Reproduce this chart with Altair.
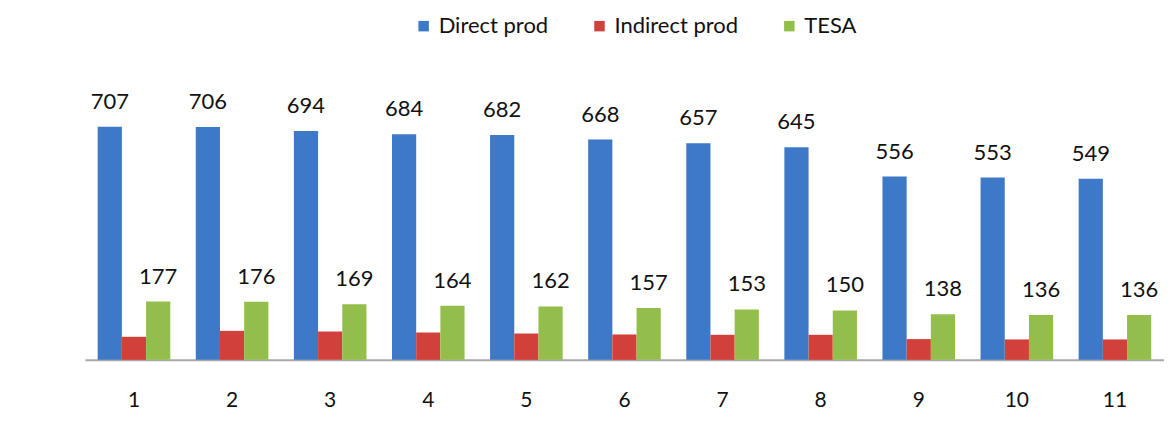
import altair as alt
import pandas as pd

categories = ["1", "2", "3", "4", "5", "6", "7", "8", "9", "10", "11"]
direct_prod = [707, 706, 694, 684, 682, 668, 657, 645, 556, 553, 549]
indirect_prod = [70, 88, 86, 83, 80, 77, 76, 76, 63, 62, 62]
tesa = [177, 176, 169, 164, 162, 157, 153, 150, 138, 136, 136]
series = ["Direct prod", "Indirect prod", "TESA"]
colors = ["#3D79C6", "#D2403C", "#94BE4B"]

rows = []
for i, c in enumerate(categories):
    for s, vals, lab in zip(series, [direct_prod, indirect_prod, tesa], [True, False, True]):
        rows.append({"cat": c, "series": s, "value": vals[i], "label": lab})
df = pd.DataFrame(rows)

font = "Lato"

x = alt.X("cat:N", sort=categories, title=None,
          scale=alt.Scale(paddingInner=0.26, paddingOuter=0.13),
          axis=alt.Axis(labelAngle=0, labelFontSize=21, labelFont=font, labelColor="#111",
                        ticks=False, labelPadding=30, domainColor="#a8a8a8", domainWidth=2,
                        grid=False))
xo = alt.XOffset("series:N", sort=series, scale=alt.Scale(paddingInner=0.0))
y = alt.Y("value:Q", scale=alt.Scale(domain=[0, 800]), axis=None)

bars = alt.Chart(df).mark_bar().encode(
    x=x, xOffset=xo, y=y,
    color=alt.Color("series:N", sort=series, scale=alt.Scale(domain=series, range=colors),
                    legend=alt.Legend(title=None, orient="none", direction="horizontal",
                                      legendX=328, legendY=-81, symbolType="square",
                                      symbolSize=110, labelFontSize=22, labelFont=font,
                                      labelColor="#111", columnPadding=40, labelOffset=4,
                                      symbolStrokeWidth=0)),
)

text = alt.Chart(df).transform_filter("datum.label").mark_text(
    baseline="bottom", dy=-13, fontSize=22, font=font, color="#111"
).encode(x=x, xOffset=xo, y=y, text="value:Q")

chart = alt.layer(bars, text).properties(
    width=1080, height=264,
    autosize=alt.AutoSizeParams(type="none"),
    padding={"left": 77, "top": 88, "right": 0, "bottom": 60},
).configure(background="white").configure_view(stroke="transparent", strokeWidth=0)

chart.save("out.html", embed_options={"renderer": "svg", "actions": False})
